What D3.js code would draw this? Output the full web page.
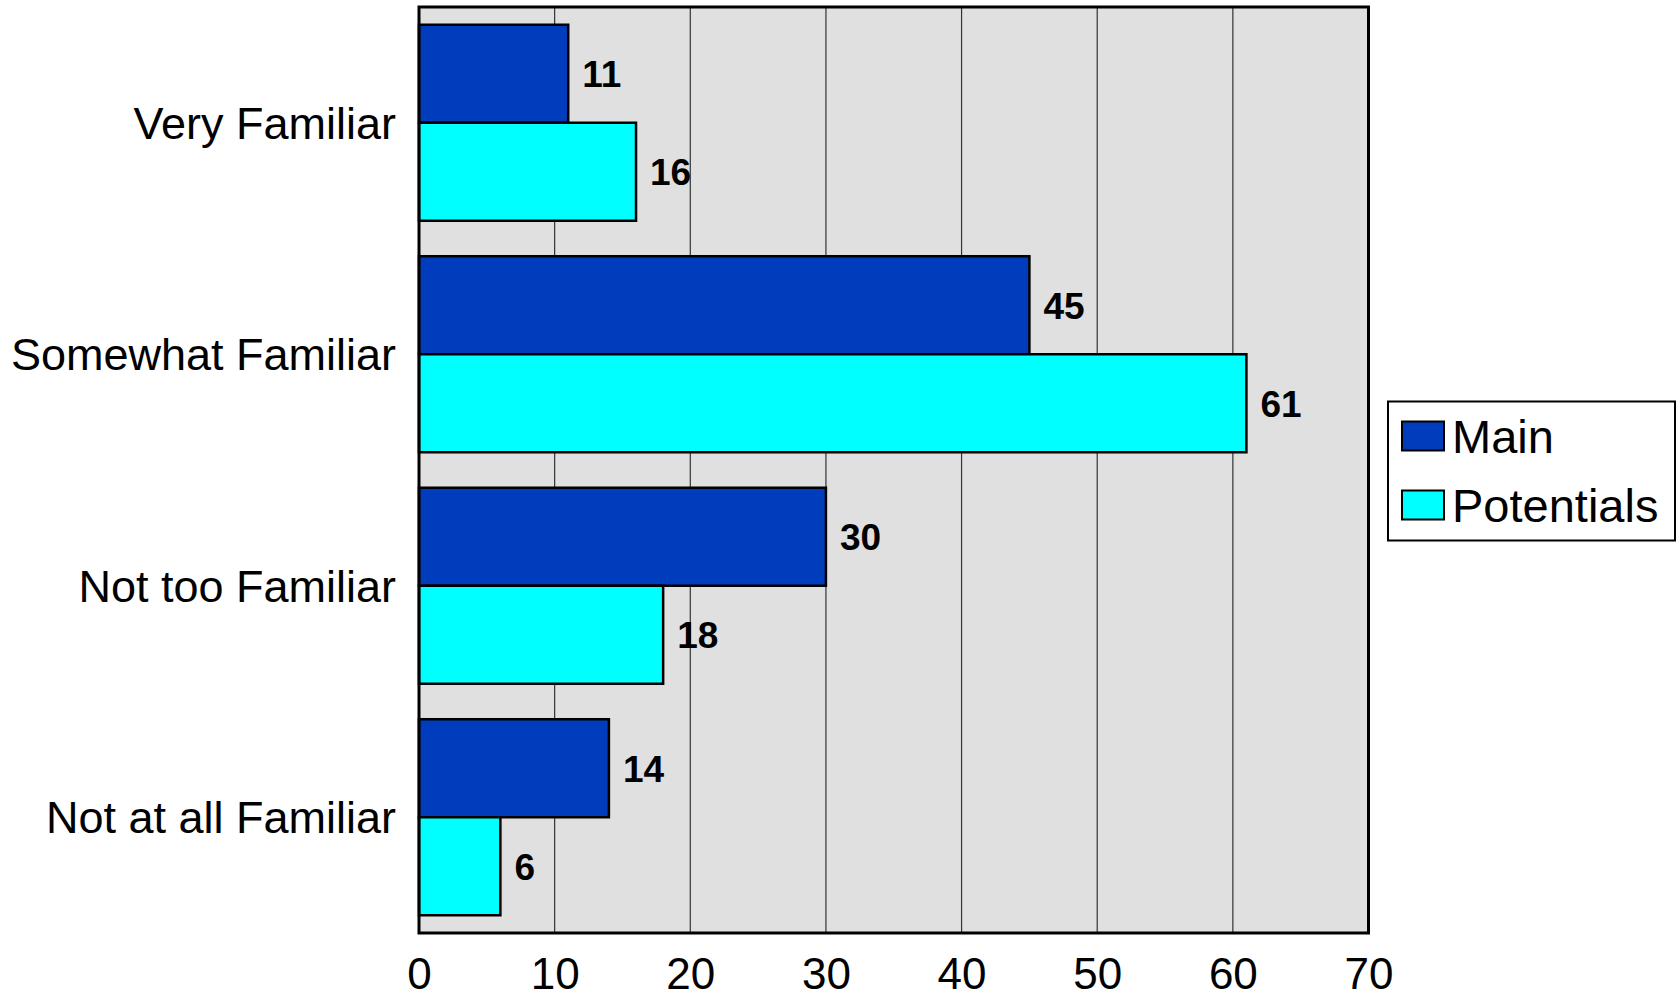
<!DOCTYPE html>
<html>
<head>
<meta charset="utf-8">
<script src="https://cdn.jsdelivr.net/npm/d3@7"></script>
<style>
  html, body { margin: 0; padding: 0; background: #ffffff; }
  svg { display: block; }
  text { font-family: "Liberation Sans", Arial, sans-serif; fill: #000; }
</style>
</head>
<body>
<svg id="chart" width="1680" height="994"></svg>
<script>
const categories = ["Very Familiar", "Somewhat Familiar", "Not too Familiar", "Not at all Familiar"];
const seriesNames = ["Main", "Potentials"];
const mainValues = [11, 45, 30, 14];
const potentialsValues = [16, 61, 18, 6];
const xTicks = [0, 10, 20, 30, 40, 50, 60, 70];
const seriesColors = ["#003dbd", "#00ffff"];

const svg = d3.select("#chart");
const plot = { left: 419, right: 1368.5, top: 7, bottom: 933 };

const x = d3.scaleLinear().domain([0, 70]).range([plot.left, plot.right]);
const y = d3.scaleBand().domain(categories).range([plot.top, plot.bottom]).padding(0);
const ySub = d3.scaleBand().domain(seriesNames).range([0, y.bandwidth()]).paddingInner(0).paddingOuter(0.181);

const data = categories.map((c, i) => ({ cat: c, values: [
  { s: "Main", v: mainValues[i] },
  { s: "Potentials", v: potentialsValues[i] }
]}));

// background
svg.append("rect")
  .attr("x", plot.left).attr("y", plot.top)
  .attr("width", plot.right - plot.left).attr("height", plot.bottom - plot.top)
  .attr("fill", "#e0e0e0");

// gridlines
svg.append("g").selectAll("line").data(xTicks.slice(1, -1)).join("line")
  .attr("x1", d => x(d)).attr("x2", d => x(d))
  .attr("y1", plot.top).attr("y2", plot.bottom)
  .attr("stroke", "#333").attr("stroke-width", 1.2);

// bars
const groups = svg.append("g").selectAll("g").data(data).join("g")
  .attr("transform", d => `translate(0,${y(d.cat)})`);
groups.selectAll("rect").data(d => d.values).join("rect")
  .attr("x", x(0))
  .attr("y", d => ySub(d.s))
  .attr("width", d => x(d.v) - x(0))
  .attr("height", ySub.bandwidth())
  .attr("fill", (d, i) => seriesColors[i])
  .attr("stroke", "#000").attr("stroke-width", 2.5);
groups.selectAll("text").data(d => d.values).join("text")
  .attr("x", d => x(d.v) + 14)
  .attr("y", d => ySub(d.s) + ySub.bandwidth() / 2)
  .attr("dy", "0.36em")
  .attr("font-size", 37).attr("font-weight", "bold")
  .text(d => d.v);

// plot border
svg.append("rect")
  .attr("x", plot.left).attr("y", plot.top)
  .attr("width", plot.right - plot.left).attr("height", plot.bottom - plot.top)
  .attr("fill", "none").attr("stroke", "#000").attr("stroke-width", 3);

// x axis labels
const xAxis = d3.axisBottom(x).tickValues(xTicks).tickSize(0).tickPadding(0).tickFormat(d3.format("d"));
const gx = svg.append("g").attr("transform", `translate(0,${plot.bottom})`).call(xAxis);
gx.select(".domain").remove();
gx.selectAll("text").attr("font-size", 44).attr("dy", null).attr("y", 56)
  .attr("font-family", '"Liberation Sans", Arial, sans-serif').attr("fill", "#000");

// y axis labels
const yAxis = d3.axisLeft(y).tickSize(0).tickPadding(0);
const gy = svg.append("g").attr("transform", `translate(396,0)`).call(yAxis);
gy.select(".domain").remove();
gy.selectAll("text").attr("font-size", 45).attr("dy", "0.36em").attr("x", 0)
  .attr("font-family", '"Liberation Sans", Arial, sans-serif').attr("fill", "#000");

// legend
const legend = svg.append("g");
legend.append("rect")
  .attr("x", 1388).attr("y", 401.5).attr("width", 287).attr("height", 139)
  .attr("fill", "#fff").attr("stroke", "#000").attr("stroke-width", 2);
const legendY = [436, 505];
seriesNames.forEach((s, i) => {
  legend.append("rect")
    .attr("x", 1402).attr("y", legendY[i] - 14.5).attr("width", 42).attr("height", 29)
    .attr("fill", seriesColors[i]).attr("stroke", "#000").attr("stroke-width", 2);
  legend.append("text")
    .attr("x", 1452).attr("y", legendY[i]).attr("dy", "0.36em")
    .attr("font-size", 47).text(s);
});
</script>
</body>
</html>
